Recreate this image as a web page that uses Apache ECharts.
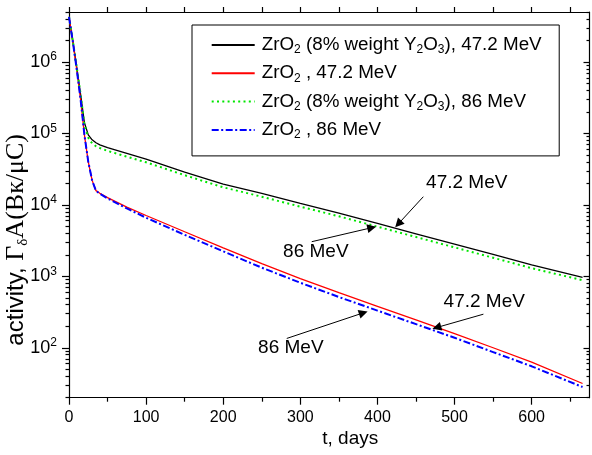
<!DOCTYPE html>
<html lang="en">
<head>
    <meta charset="UTF-8">
    <title>activity vs time</title>
    <script src="https://cdn.jsdelivr.net/npm/echarts@6/dist/echarts.min.js"></script>
    <style>
        html, body { margin: 0; padding: 0; background: #fff; }
        #chart { width: 592px; height: 455px; }
    </style>
</head>
<body>
<div id="chart"></div>
<script type="text/javascript">

    // t, days
    let days = [0, 5, 10, 15, 20, 25, 30, 35, 40, 50, 75, 100, 150, 200, 250, 300, 350, 400, 450, 500, 550, 600, 666];

    // activity values
    let zrY47 = [4.27e6, 1.95e6, 8.5e5, 3.55e5, 1.41e5, 9.55e4, 8.13e4, 7.41e4, 6.92e4, 6.31e4, 5.25e4, 4.37e4, 2.88e4, 1.95e4, 1.45e4, 1.05e4, 7670, 5500, 3940, 2820, 2020, 1450, 966];
    let zr47 = [4.27e6, 1.91e6, 7.9e5, 3.0e5, 9.5e4, 4.0e4, 2.2e4, 1.58e4, 1.45e4, 1.26e4, 9300, 7100, 4200, 2500, 1500, 930, 590, 380, 245, 158, 100, 63, 31.6];
    let zrY86 = [4.27e6, 1.95e6, 8.5e5, 3.55e5, 1.32e5, 8.7e4, 7.24e4, 6.61e4, 6.24e4, 5.69e4, 4.73e4, 3.94e4, 2.6e4, 1.76e4, 1.3e4, 9440, 6920, 4950, 3550, 2540, 1820, 1300, 881];
    let zr86 = [4.27e6, 1.91e6, 7.9e5, 3.0e5, 9.5e4, 4.0e4, 2.2e4, 1.57e4, 1.43e4, 1.23e4, 8900, 6600, 3800, 2240, 1320, 813, 513, 331, 214, 138, 87, 55, 28.2];

    let names = ['ZrO2 (8% weight Y2O3), 47.2 MeV', 'ZrO2 , 47.2 MeV', 'ZrO2 (8% weight Y2O3), 86 MeV', 'ZrO2 , 86 MeV'];
    let legendText = [
        'ZrO{sub|2} (8% weight Y{sub|2}O{sub|3}), 47.2 MeV',
        'ZrO{sub|2} , 47.2 MeV',
        'ZrO{sub|2} (8% weight Y{sub|2}O{sub|3}), 86 MeV',
        'ZrO{sub|2} , 86 MeV'
    ];

    // axis ticks
    let dayTicks = [0, 100, 200, 300, 400, 500, 600];
    let halfDayTicks = [50, 150, 250, 350, 450, 550, 650];
    let topTicks = [0, 50, 100, 150, 200, 250, 300, 350, 400, 450, 500, 550, 600, 650];
    let decades = [100, 1000, 1e4, 1e5, 1e6];

    // arrow notes: label position, arrow start, arrow tip
    let noteText = ['47.2 MeV', '86 MeV', '47.2 MeV', '86 MeV'];
    let noteAt = [[515.8, 2.05e4], [320.1, 2.21e3], [538.5, 439], [287.7, 101]];
    let noteFrom = [[459.5, 1.30e4], [314.8, 3.05e3], [537.4, 295], [282.4, 135]];
    let noteTo = [[427, 5.4e3], [392.6, 4.79e3], [476.9, 192], [381.7, 308]];

    let sans = 'Liberation Sans, Arial, sans-serif';
    let serif = 'Liberation Serif, Times New Roman, serif';

    let minorVals = [];
    [10, 100, 1000, 1e4, 1e5, 1e6].forEach(function (d) {
        for (let m = 2; m <= 9; m++) {
            let v = m * d;
            if (v >= 20 && v <= 5e6) minorVals.push(v);
        }
    });

    function pairs(arr) {
        return days.map(function (t, i) { return [t, arr[i]]; });
    }

    let blackLine = {color: '#000', width: 1.2};

    function xAx(pos, ticks, len, showLine) {
        return {
            type: 'value', min: 0, max: 675, position: pos,
            axisLine: {show: showLine, onZero: false, lineStyle: blackLine},
            axisTick: {customValues: ticks, length: len, lineStyle: blackLine},
            axisLabel: {show: false},
            splitLine: {show: false}
        };
    }

    function yAx(pos, ticks, len, inside, showLine) {
        return {
            type: 'log', logBase: 10, min: 20, max: 5e6, position: pos,
            axisLine: {show: showLine, onZero: false, lineStyle: blackLine},
            axisTick: {customValues: ticks, length: len, inside: inside, lineStyle: blackLine},
            axisLabel: {show: false},
            splitLine: {show: false}
        };
    }

    let xMain = xAx('bottom', dayTicks, 7, true);
    xMain.axisLabel = {
        show: true, customValues: dayTicks, fontSize: 16, margin: 12,
        color: '#000', fontFamily: sans
    };
    xMain.name = 't, days';
    xMain.nameLocation = 'middle';
    xMain.nameGap = 32;
    xMain.nameMoveOverlap = false;
    xMain.nameTextStyle = {fontSize: 19, color: '#000', fontFamily: sans, padding: [0, 0, 0, 42]};

    let yMain = yAx('left', decades, 7, false, true);
    yMain.axisLabel = {
        show: true, customValues: decades, margin: 12, color: '#000', fontFamily: sans,
        formatter: function (v) {
            return '{b|10}{s|' + Math.round(Math.log10(v)) + '}';
        },
        rich: {
            b: {fontSize: 18, fontFamily: sans, color: '#000'},
            s: {fontSize: 12, fontFamily: sans, color: '#000', padding: [0, 0, 10, 0]}
        }
    };
    yMain.name = '{a|activity, }{g|Γ}{d|δ}{g|A(Bк/μC)}';
    yMain.nameLocation = 'middle';
    yMain.nameGap = 40;
    yMain.nameMoveOverlap = false;
    yMain.nameTextStyle = {
        color: '#000', padding: [0, 70, 0, 0],
        rich: {
            a: {fontSize: 24, fontFamily: sans, color: '#000', lineHeight: 26},
            g: {fontSize: 26, fontFamily: serif, color: '#000', lineHeight: 26},
            d: {fontSize: 15, fontFamily: serif, color: '#000', lineHeight: 12, padding: [14, 0, 0, 0]}
        }
    };

    let chart = echarts.init(document.getElementById('chart'));

    let option = {
        animation: false,
        backgroundColor: '#fff',
        grid: {left: 69, top: 12, right: 2.5, bottom: 57.3, outerBoundsMode: 'none'},
        legend: {
            data: names,
            orient: 'vertical',
            left: 192, top: 25,
            padding: [9, 17.6, 15, 18.7],
            itemWidth: 43, itemHeight: 14, itemGap: 6.3,
            borderColor: '#000', borderWidth: 1,
            selectedMode: false,
            itemStyle: {opacity: 0},
            formatter: function (name) {
                return legendText[names.indexOf(name)];
            },
            textStyle: {
                fontSize: 18.8, color: '#000', fontFamily: sans, lineHeight: 22,
                padding: [0, 0, 0, 2],
                rich: {
                    sub: {fontSize: 12, fontFamily: sans, color: '#000', lineHeight: 12, padding: [10, 0, 0, 0]}
                }
            }
        },
        xAxis: [
            xMain,
            xAx('top', topTicks, 5, true),
            xAx('bottom', halfDayTicks, 4, false)
        ],
        yAxis: [
            yMain,
            yAx('left', minorVals, 3.5, false, false),
            yAx('right', decades, 6, true, true),
            yAx('right', minorVals, 3, true, false)
        ],
        series: [
            {
                name: names[0], type: 'line', data: pairs(zrY47), symbol: 'none',
                lineStyle: {color: '#000', width: 1.3}, itemStyle: {color: '#000'}
            },
            {
                name: names[1], type: 'line', data: pairs(zr47), symbol: 'none',
                lineStyle: {color: '#ff0000', width: 1.3}, itemStyle: {color: '#ff0000'}
            },
            {
                name: names[2], type: 'line', data: pairs(zrY86), symbol: 'none',
                lineStyle: {color: '#00e600', width: 2, type: [2, 3.3]}, itemStyle: {color: '#00e600'}
            },
            {
                name: names[3], type: 'line', data: pairs(zr86), symbol: 'none',
                lineStyle: {color: '#0000ff', width: 2, type: [7, 2.5, 2, 2.5]}, itemStyle: {color: '#0000ff'}
            },
            {
                name: 'notes', type: 'scatter', symbolSize: 0,
                itemStyle: {opacity: 1, color: '#000'},
                data: noteAt.map(function (p, i) { return {name: noteText[i], value: p}; }),
                label: {
                    show: true, position: 'inside', color: '#000', fontSize: 19, fontFamily: sans,
                    formatter: function (p) { return p.name; }
                },
                markLine: {
                    silent: true, animation: false,
                    symbol: ['none', 'triangle'], symbolSize: 9,
                    itemStyle: {color: '#000', opacity: 1},
                    lineStyle: {color: '#000', width: 1, type: 'solid', opacity: 1},
                    label: {show: false},
                    data: noteFrom.map(function (f, i) {
                        return [{coord: f}, {coord: noteTo[i]}];
                    })
                }
            }
        ]
    };
    chart.setOption(option);

</script>
</body>
</html>
